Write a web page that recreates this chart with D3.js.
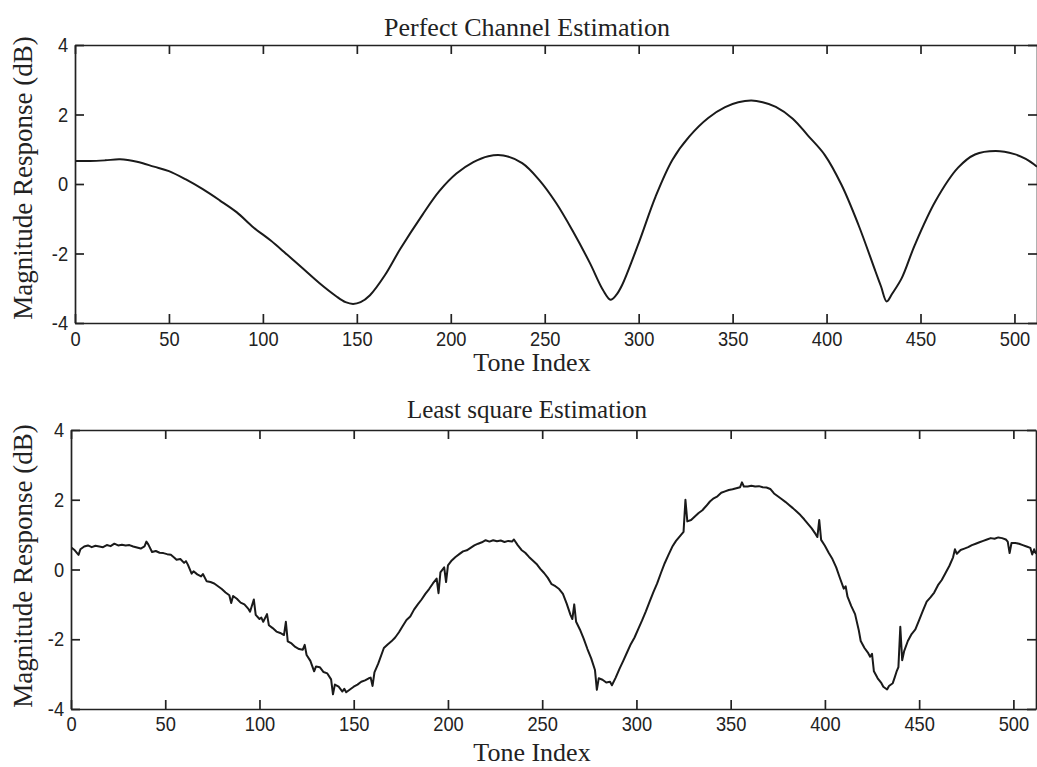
<!DOCTYPE html>
<html>
<head>
<meta charset="utf-8">
<script src="https://d3js.org/d3.v7.min.js"></script>
<style>
  body { margin: 0; background: #fff; }
  .axis path, .axis line { stroke: #222; stroke-width: 1.7px; }
  .axis text { font-family: "Liberation Sans", Arial, sans-serif; font-size: 21px; fill: #222; }
  .lbl { font-family: "Liberation Serif", "Times New Roman", serif; fill: #222; }
</style>
</head>
<body>
<div id="chart"></div>
<script>
var svgWidth = 1037;
var svgHeight = 767;

// tick labels
var xTicks = [0, 50, 100, 150, 200, 250, 300, 350, 400, 450, 500];
var yTicks = [-4, -2, 0, 2, 4];

// [tone index, dB]
var perfectResponse = [
  [0,0.66],[8,0.66],[16,0.68],[24,0.71],[33,0.64],[42,0.50],[50,0.37],[59,0.13],[68,-0.15],[77,-0.47],
  [86,-0.81],[95,-1.25],[104,-1.62],[112,-1.99],[121,-2.42],[130,-2.85],[139,-3.23],[144,-3.40],[148,-3.45],[152,-3.40],
  [157,-3.20],[165,-2.62],[173,-1.88],[185,-0.88],[194,-0.20],[203,0.30],[212,0.63],[220,0.80],[228,0.82],[238,0.60],
  [247,0.12],[256,-0.54],[265,-1.36],[274,-2.27],[281,-3.05],[285,-3.33],[288,-3.20],[291,-2.93],[300,-1.70],[309,-0.36],
  [318,0.70],[327,1.37],[337,1.90],[346,2.21],[353,2.35],[360,2.40],[366,2.35],[373,2.22],[382,1.88],[390,1.40],
  [399,0.84],[408,-0.03],[417,-1.18],[426,-2.51],[429,-2.95],[432,-3.38],[435,-3.15],[440,-2.71],[447,-1.75],[458,-0.49],
  [470,0.47],[479,0.85],[490,0.95],[500,0.86],[506,0.72],[512,0.50]
];

// [tone index, dB] (noisy LS estimate)
var lsResponse = [
  [0,0.64],[2,0.55],[4,0.42],[5,0.58],[7,0.66],[9,0.69],[11,0.64],[13,0.68],[15,0.66],[17,0.64],
  [19,0.70],[21,0.67],[23,0.74],[25,0.69],[27,0.71],[29,0.69],[31,0.70],[33,0.66],[35,0.63],[37,0.60],
  [39,0.66],[40,0.80],[41,0.72],[43,0.50],[45,0.53],[47,0.48],[49,0.47],[51,0.44],[53,0.42],[55,0.33],
  [56,0.28],[58,0.30],[60,0.19],[61,0.24],[62,0.14],[64,-0.12],[65,-0.05],[67,-0.14],[69,-0.20],[70,-0.13],
  [72,-0.34],[74,-0.36],[76,-0.40],[78,-0.48],[80,-0.56],[82,-0.66],[84,-0.74],[85,-0.96],[86,-0.76],[88,-0.84],
  [90,-0.95],[92,-1.00],[94,-1.12],[95,-1.21],[97,-0.86],[98,-1.30],[100,-1.42],[101,-1.38],[102,-1.50],[104,-1.28],
  [105,-1.60],[107,-1.68],[109,-1.78],[111,-1.82],[113,-1.88],[114,-1.50],[115,-2.06],[117,-2.12],[119,-2.22],[121,-2.28],
  [123,-2.30],[124,-2.16],[125,-2.45],[127,-2.62],[129,-2.92],[130,-2.78],[132,-2.80],[134,-2.94],[136,-2.98],[138,-3.15],
  [139,-3.58],[140,-3.30],[142,-3.36],[144,-3.50],[145,-3.42],[146,-3.52],[148,-3.44],[150,-3.36],[152,-3.30],[154,-3.22],
  [156,-3.18],[158,-3.12],[159,-3.10],[160,-3.34],[161,-2.95],[163,-2.70],[166,-2.25],[168,-2.15],[170,-2.06],[172,-1.95],
  [174,-1.80],[176,-1.62],[178,-1.45],[180,-1.35],[182,-1.15],[184,-1.00],[186,-0.86],[188,-0.70],[190,-0.56],[192,-0.40],
  [194,-0.26],[195,-0.68],[196,-0.08],[198,0.06],[199,-0.36],[200,0.12],[202,0.26],[204,0.36],[206,0.44],[208,0.52],
  [210,0.55],[212,0.62],[214,0.69],[216,0.74],[218,0.78],[220,0.84],[222,0.80],[224,0.84],[226,0.81],[228,0.83],
  [230,0.79],[232,0.82],[234,0.80],[235,0.86],[237,0.70],[239,0.56],[241,0.48],[243,0.36],[245,0.26],[247,0.16],
  [249,0.02],[251,-0.10],[253,-0.24],[255,-0.42],[257,-0.48],[259,-0.56],[261,-0.70],[263,-0.98],[265,-1.30],[266,-1.42],
  [267,-1.00],[268,-1.50],[270,-1.72],[272,-1.98],[274,-2.28],[276,-2.55],[278,-2.88],[279,-3.45],[280,-3.12],[282,-3.16],
  [284,-3.24],[286,-3.22],[287,-3.32],[289,-3.10],[291,-2.85],[293,-2.62],[295,-2.38],[297,-2.14],[299,-1.95],[301,-1.70],
  [303,-1.46],[305,-1.20],[307,-0.92],[309,-0.65],[311,-0.40],[313,-0.10],[315,0.18],[317,0.42],[319,0.65],[321,0.82],
  [323,0.95],[325,1.08],[326,2.00],[327,1.38],[329,1.42],[331,1.52],[333,1.62],[335,1.70],[337,1.82],[339,1.95],
  [341,2.04],[343,2.10],[345,2.20],[347,2.24],[349,2.28],[351,2.30],[353,2.33],[355,2.36],[356,2.50],[357,2.38],
  [359,2.38],[361,2.40],[363,2.38],[365,2.39],[367,2.36],[369,2.35],[371,2.31],[373,2.18],[375,2.10],[377,2.02],
  [379,1.94],[381,1.85],[383,1.76],[385,1.66],[387,1.56],[389,1.44],[391,1.31],[393,1.18],[395,1.02],[396,0.93],
  [397,1.42],[398,0.85],[400,0.68],[402,0.48],[404,0.30],[406,0.06],[408,-0.25],[410,-0.55],[411,-0.48],[412,-0.78],
  [414,-1.05],[416,-1.28],[418,-1.75],[419,-2.05],[421,-2.25],[423,-2.40],[424,-2.50],[425,-2.42],[426,-2.92],[428,-3.12],
  [430,-3.26],[431,-3.36],[433,-3.44],[434,-3.34],[436,-3.26],[437,-3.10],[438,-2.93],[439,-2.80],[440,-1.64],[441,-2.60],
  [442,-2.35],[444,-2.05],[446,-1.85],[448,-1.72],[450,-1.45],[452,-1.18],[454,-0.92],[456,-0.80],[458,-0.66],[460,-0.45],
  [462,-0.30],[464,-0.10],[466,0.10],[468,0.35],[469,0.58],[470,0.45],[472,0.56],[474,0.60],[476,0.64],[478,0.70],
  [480,0.74],[482,0.78],[484,0.82],[486,0.86],[488,0.90],[490,0.88],[492,0.92],[494,0.90],[496,0.86],[497,0.80],
  [498,0.47],[499,0.76],[501,0.76],[503,0.74],[505,0.70],[507,0.66],[509,0.62],[510,0.43],[511,0.58],[512,0.45]
];

var svg = d3.select("#chart")
  .append("svg")
  .attr("width", svgWidth)
  .attr("height", svgHeight);

// one MATLAB style subplot
function drawPanel(opt) {
  var x = d3.scaleLinear().domain([0, 512]).range([opt.left, opt.right]);
  var y = d3.scaleLinear().domain([-4, 4]).range([opt.bottom, opt.top]);
  var g = svg.append("g");

  var clipId = "clip" + opt.id;
  svg.append("clipPath").attr("id", clipId)
    .append("rect")
    .attr("x", opt.left).attr("y", opt.top)
    .attr("width", opt.right - opt.left).attr("height", opt.bottom - opt.top);

  g.append("path")
    .datum(opt.data)
    .attr("clip-path", "url(#" + clipId + ")")
    .attr("fill", "none")
    .attr("stroke", "#1a1a1a")
    .attr("stroke-width", 2)
    .attr("stroke-linejoin", "round")
    .attr("d", d3.line()
      .x(d => x(d[0]))
      .y(d => y(d[1]))
      .curve(opt.curve));

  // axes, ticks pointing inward on all four sides
  var xAxis = g.append("g").attr("class", "axis")
    .attr("transform", `translate(0, ${opt.bottom})`)
    .call(d3.axisBottom(x).tickValues(xTicks).tickSize(-9).tickSizeOuter(0).tickPadding(opt.xPad));
  g.append("g").attr("class", "axis")
    .attr("transform", `translate(0, ${opt.top})`)
    .call(d3.axisTop(x).tickValues(xTicks).tickSize(-9).tickSizeOuter(0).tickFormat(""));
  var yAxis = g.append("g").attr("class", "axis")
    .attr("transform", `translate(${opt.left}, 0)`)
    .call(d3.axisLeft(y).tickValues(yTicks).tickSize(-9).tickSizeOuter(0).tickPadding(8)
      .tickFormat(d => String(d)));
  g.append("g").attr("class", "axis")
    .attr("transform", `translate(${opt.right}, 0)`)
    .call(d3.axisRight(y).tickValues(yTicks).tickSize(-9).tickSizeOuter(0).tickFormat(""));

  // the scanned tick digits are narrower than Liberation Sans
  xAxis.selectAll("text").attr("transform", "scale(0.87,1)");
  yAxis.selectAll("text").attr("transform", "scale(0.87,1)");

  g.append("text").attr("class", "lbl")
    .attr("x", 527)
    .attr("y", opt.top - opt.titleGap)
    .attr("text-anchor", "middle")
    .style("font-size", opt.titleSize + "px")
    .text(opt.title);

  g.append("text").attr("class", "lbl")
    .attr("x", 532)
    .attr("y", opt.bottom + opt.xLabelGap)
    .attr("text-anchor", "middle")
    .style("font-size", "26px")
    .text("Tone Index");

  g.append("text").attr("class", "lbl")
    .attr("transform", `translate(32, ${opt.yLabelMid}) rotate(-90)`)
    .attr("text-anchor", "middle")
    .style("font-size", "27px")
    .text("Magnitude Response (dB)");
}

drawPanel({ id: 1, data: perfectResponse, curve: d3.curveCatmullRom,
  left: 75, right: 1037, top: 45, bottom: 323, xPad: 8, xLabelGap: 48,
  titleGap: 9, titleSize: 26, yLabelMid: 178,
  title: "Perfect Channel Estimation" });

drawPanel({ id: 2, data: lsResponse, curve: d3.curveLinear,
  left: 71, right: 1036, top: 430, bottom: 709, xPad: 7, xLabelGap: 52,
  titleGap: 12, titleSize: 25, yLabelMid: 566,
  title: "Least square Estimation" });
</script>
</body>
</html>
